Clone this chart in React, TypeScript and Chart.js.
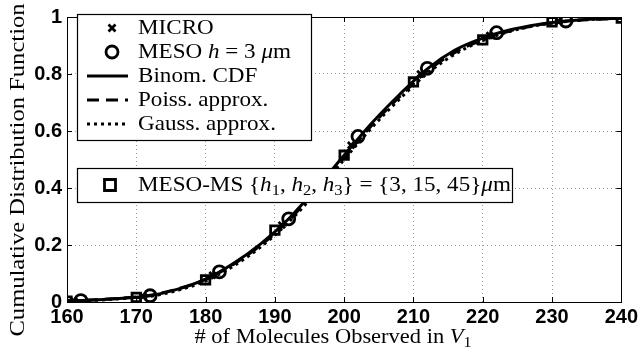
import { useEffect, useRef } from "react";
import { Chart, registerables } from "chart.js";
Chart.register(...registerables);

// ---- data ----
const curveX = [160, 164, 168, 172, 176, 180, 184, 188, 192, 196, 200, 204, 208, 212, 216, 220, 224, 228, 232, 236, 240];
const binomY = [0.003, 0.007, 0.013, 0.022, 0.045, 0.08, 0.135, 0.205, 0.292, 0.4, 0.515, 0.628, 0.728, 0.818, 0.884, 0.926, 0.955, 0.974, 0.986, 0.993, 0.996];
const poissY = [0.004, 0.008, 0.014, 0.024, 0.046, 0.079, 0.132, 0.2, 0.286, 0.393, 0.508, 0.62, 0.72, 0.81, 0.876, 0.92, 0.952, 0.972, 0.985, 0.992, 0.996];
const gaussY = [0.003, 0.006, 0.012, 0.02, 0.041, 0.074, 0.126, 0.194, 0.28, 0.386, 0.5, 0.612, 0.712, 0.802, 0.87, 0.917, 0.95, 0.971, 0.984, 0.992, 0.996];

const microX = [161, 171, 181, 191, 201, 211, 221, 231];
const microY = [0.004, 0.02, 0.094, 0.27, 0.55, 0.8, 0.935, 0.985];
const mesoX = [162, 172, 182, 192, 202, 212, 222, 232];
const mesoY = [0.005, 0.022, 0.106, 0.292, 0.581, 0.82, 0.945, 0.986];
const msX = [160, 170, 180, 190, 200, 210, 220, 230, 240];
const msY = [0.003, 0.016, 0.078, 0.252, 0.515, 0.772, 0.92, 0.983, 0.996];

const xTickValues = [160, 170, 180, 190, 200, 210, 220, 230, 240];
const yTickValues = [0, 0.2, 0.4, 0.6, 0.8, 1];
const yTickLabels = ["0", "0.2", "0.4", "0.6", "0.8", "1"];

const legendMain = ["MICRO", "MESO", "Binom. CDF", "Poiss. approx.", "Gauss. approx."];

type Seg = { t: string; it?: boolean; sub?: boolean };
const SERIF = '"Liberation Serif", "DejaVu Serif", serif';

function drawRich(ctx: CanvasRenderingContext2D, segs: Seg[], x: number, y: number, size: number, align: "left" | "center" = "left", stretch = 1) {
  ctx.save();
  ctx.textBaseline = "middle";
  ctx.textAlign = "left";
  const fontOf = (s: Seg) => `${s.it ? "italic " : ""}${s.sub ? Math.round(size * 0.7) : size}px ${SERIF}`;
  let total = 0;
  for (const s of segs) {
    ctx.font = fontOf(s);
    total += ctx.measureText(s.t).width;
  }
  ctx.translate(x, y);
  ctx.scale(stretch, 1);
  let cx = align === "center" ? -total / 2 : 0;
  for (const s of segs) {
    ctx.font = fontOf(s);
    ctx.fillText(s.t, cx, s.sub ? size * 0.28 : 0);
    cx += ctx.measureText(s.t).width;
  }
  ctx.restore();
}

function drawMarker(ctx: CanvasRenderingContext2D, kind: string, x: number, y: number) {
  ctx.save();
  ctx.strokeStyle = "#000";
  ctx.lineWidth = 2.8;
  ctx.beginPath();
  if (kind === "x") {
    const r = 3.5;
    ctx.moveTo(x - r, y - r); ctx.lineTo(x + r, y + r);
    ctx.moveTo(x - r, y + r); ctx.lineTo(x + r, y - r);
  } else if (kind === "o") {
    ctx.arc(x, y, 6, 0, Math.PI * 2);
  } else {
    ctx.rect(x - 5.5, y - 5.5, 11, 11);
  }
  ctx.stroke();
  ctx.restore();
}

const decor = {
  id: "decor",
  afterDraw(chart: any) {
    const ctx: CanvasRenderingContext2D = chart.ctx;
    const a = chart.chartArea;
    const xs = chart.scales.x;
    const ys = chart.scales.y;
    ctx.save();
    // box
    ctx.strokeStyle = "#000";
    ctx.lineWidth = 1;
    ctx.strokeRect(Math.round(a.left) + 0.5, Math.round(a.top) + 0.5, Math.round(a.right - a.left), Math.round(a.bottom - a.top));
    // inward ticks
    ctx.beginPath();
    const tl = 5;
    for (const v of xTickValues) {
      const px = Math.round(xs.getPixelForValue(v)) + 0.5;
      ctx.moveTo(px, a.bottom); ctx.lineTo(px, a.bottom - tl);
      ctx.moveTo(px, a.top); ctx.lineTo(px, a.top + tl);
    }
    for (const v of yTickValues) {
      const py = Math.round(ys.getPixelForValue(v)) + 0.5;
      ctx.moveTo(a.left, py); ctx.lineTo(a.left + tl, py);
      ctx.moveTo(a.right, py); ctx.lineTo(a.right - tl, py);
    }
    ctx.stroke();

    const fs = 21;
    const st = 1.1;
    // legend 1
    ctx.fillStyle = "#fff";
    ctx.fillRect(77, 14, 234, 126);
    ctx.strokeStyle = "#000";
    ctx.lineWidth = 1.2;
    ctx.strokeRect(77.5, 14.5, 234, 126);
    const rows = [28, 52, 76, 100, 124];
    ctx.fillStyle = "#000";
    drawMarker(ctx, "x", 112, rows[0]);
    drawMarker(ctx, "o", 112, rows[1]);
    const lines: number[][] = [[], [12, 7], [3, 4]];
    lines.forEach((d, i) => {
      ctx.save();
      ctx.setLineDash(d);
      ctx.lineWidth = 2.8;
      ctx.beginPath();
      ctx.moveTo(87, rows[2 + i]);
      ctx.lineTo(128, rows[2 + i]);
      ctx.stroke();
      ctx.restore();
    });
    drawRich(ctx, [{ t: legendMain[0] }], 138, rows[0], fs, "left", st);
    drawRich(ctx, [{ t: legendMain[1] + " " }, { t: "h", it: true }, { t: " = 3 " }, { t: "μ", it: true }, { t: "m" }], 138, rows[1], fs, "left", st);
    drawRich(ctx, [{ t: legendMain[2] }], 138, rows[2], fs, "left", st);
    drawRich(ctx, [{ t: legendMain[3] }], 138, rows[3], fs, "left", st);
    drawRich(ctx, [{ t: legendMain[4] }], 138, rows[4], fs, "left", st);

    // legend 2
    ctx.fillStyle = "#fff";
    ctx.fillRect(77, 168, 435, 34);
    ctx.strokeStyle = "#000";
    ctx.lineWidth = 1.2;
    ctx.strokeRect(77.5, 168.5, 435, 34);
    drawMarker(ctx, "s", 110, 185);
    ctx.fillStyle = "#000";
    drawRich(ctx, [
      { t: "MESO-MS {" }, { t: "h", it: true }, { t: "1", sub: true }, { t: ", " }, { t: "h", it: true }, { t: "2", sub: true },
      { t: ", " }, { t: "h", it: true }, { t: "3", sub: true }, { t: "} = {3, 15, 45}" }, { t: "μ", it: true }, { t: "m" },
    ], 138, 185, fs, "left", st);

    // axis titles
    drawRich(ctx, [{ t: "# of Molecules Observed in " }, { t: "V", it: true }, { t: "1", sub: true }], 333, 337, 21, "center", 1.07);
    ctx.save();
    ctx.translate(18, 170);
    ctx.rotate(-Math.PI / 2);
    drawRich(ctx, [{ t: "Cumulative Distribution Function" }], 0, 0, 21, "center", 1.17);
    ctx.restore();
    ctx.restore();
  },
};

export default function App() {
  const ref = useRef<HTMLCanvasElement>(null);
  useEffect(() => {
    const pts = (xs: number[], ys: number[]) => xs.map((x, i) => ({ x, y: ys[i] }));
    const lineDs = (label: string, ys: number[], dash: number[], order: number) => ({
      label,
      data: pts(curveX, ys),
      borderColor: "#000",
      borderWidth: 3,
      borderDash: dash,
      pointRadius: 0,
      cubicInterpolationMode: "monotone" as const,
      fill: false,
      order,
    });
    const markDs = (label: string, xs: number[], ys: number[], style: string, radius: number, order: number) => ({
      label,
      data: pts(xs, ys),
      showLine: false,
      pointStyle: style,
      pointRadius: radius,
      pointBorderWidth: 2.8,
      pointBorderColor: "#000",
      pointBackgroundColor: "rgba(0,0,0,0)",
      order,
    });
    const chart = new Chart(ref.current!, {
      type: "line",
      data: {
        datasets: [
          markDs("MICRO", microX, microY, "crossRot", 4.5, 1),
          markDs("MESO", mesoX, mesoY, "circle", 6, 2),
          markDs("MESO-MS", msX, msY, "rect", 6, 3),
          lineDs("Binom. CDF", binomY, [], 4),
          lineDs("Poiss. approx.", poissY, [12, 7], 5),
          lineDs("Gauss. approx.", gaussY, [3, 4], 6),
        ] as any,
      },
      options: {
        animation: false,
        responsive: false,
        layout: { padding: { top: 10, right: 19, left: 0, bottom: 0 } },
        plugins: { legend: { display: false }, tooltip: { enabled: false } },
        scales: {
          x: {
            type: "linear",
            min: 160,
            max: 240,
            afterBuildTicks: (s: any) => { s.ticks = xTickValues.map((v) => ({ value: v })); },
            afterFit: (s: any) => { s.height = 51; },
            ticks: {
              color: "#000",
              padding: 3,
              font: { family: '"Liberation Sans", Arial, sans-serif', size: 20, weight: "bold" },
              maxRotation: 0,
              autoSkip: false,
            },
            grid: { color: "#9a9a9a", lineWidth: 1, drawTicks: false },
            border: { display: false, dash: [1, 3] },
          },
          y: {
            type: "linear",
            min: 0,
            max: 1,
            afterBuildTicks: (s: any) => { s.ticks = yTickValues.map((v) => ({ value: v })); },
            afterFit: (s: any) => { s.width = 67; },
            ticks: {
              color: "#000",
              padding: 5,
              font: { family: '"Liberation Sans", Arial, sans-serif', size: 20, weight: "bold" },
              autoSkip: false,
              callback: (v: any) => {
                const i = yTickValues.findIndex((t) => Math.abs(t - Number(v)) < 1e-9);
                return i >= 0 ? yTickLabels[i] : "";
              },
            },
            grid: { color: "#9a9a9a", lineWidth: 1, drawTicks: false },
            border: { display: false, dash: [1, 3] },
          },
        },
      },
      plugins: [decor],
    });
    return () => chart.destroy();
  }, []);
  return (
    <div style={{ position: "fixed", left: 0, top: 0, width: 641, height: 353, background: "#fff" }}>
      <canvas ref={ref} width={641} height={353} style={{ width: 641, height: 353, display: "block" }} />
    </div>
  );
}
